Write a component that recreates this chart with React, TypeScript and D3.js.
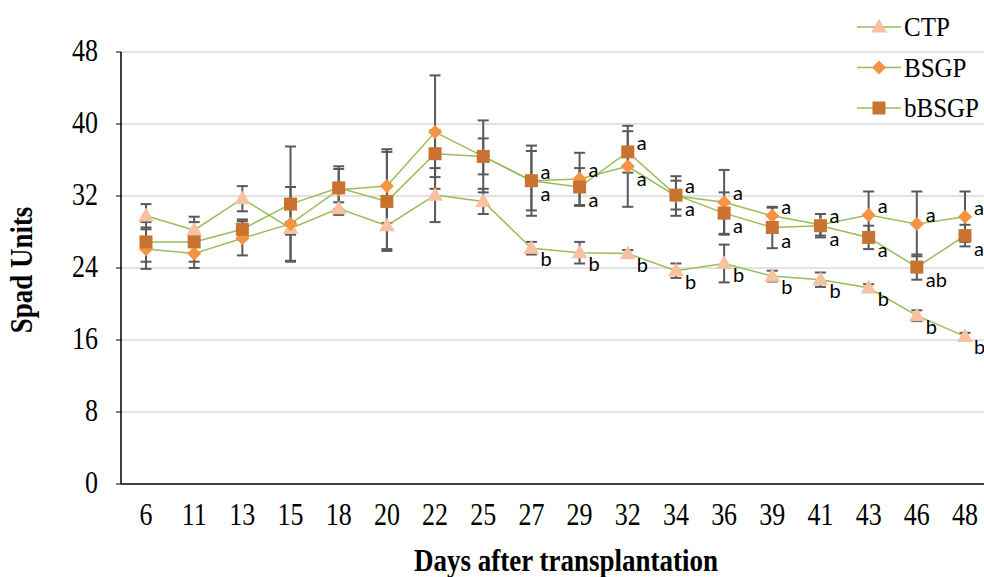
import * as d3 from "d3";

// days after transplantation
const days = ["6", "11", "13", "15", "18", "20", "22", "25", "27", "29", "32", "34", "36", "39", "41", "43", "46", "48"];

const ctp = [29.8, 28.2, 31.7, 28.4, 30.6, 28.7, 32.1, 31.4, 26.2, 25.7, 25.6, 23.7, 24.5, 23.1, 22.7, 21.8, 18.7, 16.4];
const ctpErr = [1.3, 1.5, 1.4, 0.7, 0.7, 2.6, 3.0, 1.4, 0.7, 1.2, 0.4, 0.8, 2.1, 0.6, 0.8, 0.4, 0.6, 0.4];

const bsgp = [26.1, 25.6, 27.3, 28.9, 32.7, 33.1, 39.1, 36.4, 33.7, 33.9, 35.3, 32.0, 31.3, 29.8, 28.8, 29.9, 28.9, 29.7];
const bsgpErr = [2.2, 1.6, 1.9, 4.1, 2.3, 4.1, 6.3, 4.0, 3.9, 2.9, 4.5, 2.2, 3.6, 0.9, 1.2, 2.6, 3.6, 2.8];

const bbsgp = [26.9, 26.9, 28.3, 31.1, 32.9, 31.4, 36.7, 36.4, 33.7, 33.0, 36.9, 32.1, 30.1, 28.5, 28.7, 27.4, 24.1, 27.6];
const bbsgpErr = [2.2, 2.2, 1.1, 6.4, 2.4, 5.5, 2.6, 2.0, 3.3, 2.1, 2.3, 1.6, 2.3, 2.3, 1.3, 1.3, 1.4, 1.2];

const ctpLabels = ["", "", "", "", "", "", "", "", "b", "b", "b", "b", "b", "b", "b", "b", "b", "b"];
const bsgpLabels = ["", "", "", "", "", "", "", "", "a", "a", "a", "a", "a", "a", "a", "a", "a", "a"];
const bbsgpLabels = ["", "", "", "", "", "", "", "", "a", "a", "a", "a", "a", "a", "a", "a", "ab", "a"];

const yTicks = [0, 8, 16, 24, 32, 40, 48];

const LINE = "#9bbb59";
const ERR = "#595959";
const C_CTP = "#f8c1a1";
const C_BSGP = "#f79444";
const C_BBSGP = "#c8732f";
const SERIF = "'Liberation Serif', 'Times New Roman', serif";
const SANS = "Lato, 'Noto Sans', sans-serif";
const STRETCH = "scale(1,1.18)";

const W = 984;
const H = 577;

const x = d3.scalePoint<string>().domain(days).range([146, 965]);
const y = d3.scaleLinear().domain([0, 48]).range([484, 52]);

const Marker = ({ kind, cx, cy }: { kind: string; cx: number; cy: number }) => {
  if (kind === "tri") {
    const sym = d3.symbol(d3.symbolTriangle, 110)();
    return <path d={sym || ""} transform={`translate(${cx},${cy + 1})`} fill={C_CTP} />;
  }
  if (kind === "dia") {
    return <rect x={-5} y={-5} width={10} height={10} fill={C_BSGP} transform={`translate(${cx},${cy}) rotate(45)`} />;
  }
  return <rect x={cx - 6.5} y={cy - 6.5} width={13} height={13} fill={C_BBSGP} />;
};

const series = [
  { name: "CTP", vals: ctp, err: ctpErr, labels: ctpLabels, kind: "tri" },
  { name: "BSGP", vals: bsgp, err: bsgpErr, labels: bsgpLabels, kind: "dia" },
  { name: "bBSGP", vals: bbsgp, err: bbsgpErr, labels: bbsgpLabels, kind: "sq" },
];

export default function App() {
  const line = d3
    .line<number>()
    .x((_, i) => x(days[i]) as number)
    .y((d) => y(d));

  return (
    <svg width={W} height={H} style={{ position: "absolute", left: 0, top: 0, background: "#fff" }}>
      {/* grid */}
      {yTicks.filter((t) => t > 0).map((t) => (
        <line key={t} x1={121} x2={W} y1={y(t)} y2={y(t)} stroke="#d9d9d9" strokeWidth={1.5} />
      ))}
      {/* axes */}
      <line x1={121} x2={121} y1={y(48)} y2={y(0)} stroke="#000" strokeWidth={1.5} />
      <line x1={121} x2={W} y1={y(0)} y2={y(0)} stroke="#000" strokeWidth={1.5} />
      {yTicks.map((t) => (
        <g key={t}>
          <line x1={116} x2={121} y1={y(t)} y2={y(t)} stroke="#000" strokeWidth={1} />
          <text transform={`translate(98,${y(t) + 9}) ${STRETCH}`} textAnchor="end" fontFamily={SERIF} fontSize={26}>{t}</text>
        </g>
      ))}
      {days.map((d) => (
        <text key={d} transform={`translate(${x(d)},525) ${STRETCH}`} textAnchor="middle" fontFamily={SERIF} fontSize={26}>{d}</text>
      ))}
      <text transform={`translate(566,571) ${STRETCH}`} textAnchor="middle" fontFamily={SERIF} fontSize={27} fontWeight="bold">Days after transplantation</text>
      <text transform={`translate(32,${270}) rotate(-90) ${STRETCH}`} textAnchor="middle" fontFamily={SERIF} fontSize={27} fontWeight="bold">Spad Units</text>

      {/* error bars */}
      {series.map((s) =>
        s.vals.map((v, i) => {
          const cx = x(days[i]) as number;
          const hi = y(v + s.err[i]);
          const lo = y(v - s.err[i]);
          return (
            <g key={s.name + i} stroke={ERR} strokeWidth={2}>
              <line x1={cx} x2={cx} y1={hi} y2={lo} />
              <line x1={cx - 5.5} x2={cx + 5.5} y1={hi} y2={hi} />
              <line x1={cx - 5.5} x2={cx + 5.5} y1={lo} y2={lo} />
            </g>
          );
        })
      )}
      {/* lines */}
      {series.map((s) => (
        <path key={s.name} d={line(s.vals) || ""} fill="none" stroke={LINE} strokeWidth={1.5} />
      ))}
      {/* markers */}
      {series.map((s) =>
        s.vals.map((v, i) => <Marker key={s.name + i} kind={s.kind} cx={x(days[i]) as number} cy={y(v)} />)
      )}
      {/* significance letters */}
      {series.map((s, si) =>
        s.labels.map((lab, i) => {
          if (!lab) return null;
          const cx = x(days[i]) as number;
          const v = s.vals[i];
          let dy = 18;
          if (si > 0) {
            const other = si === 1 ? bbsgp[i] : bsgp[i];
            const upper = si === 1 ? v >= other : v > other;
            dy = upper ? -2 : 20;
          }
          return (
            <text key={s.name + "l" + i} x={cx + 9} y={y(v) + dy} fontFamily={SANS} fontSize={20} fill="#000">{lab}</text>
          );
        })
      )}

      {/* legend */}
      {series.map((s, i) => {
        const ly = 27 + i * 40.5;
        return (
          <g key={s.name}>
            <line x1={857} x2={901} y1={ly} y2={ly} stroke={LINE} strokeWidth={1.5} />
            <Marker kind={s.kind} cx={879} cy={ly} />
            <text transform={`translate(904,${ly + 9}) scale(1,1.05)`} fontFamily={SERIF} fontSize={25}>{s.name}</text>
          </g>
        );
      })}
    </svg>
  );
}
